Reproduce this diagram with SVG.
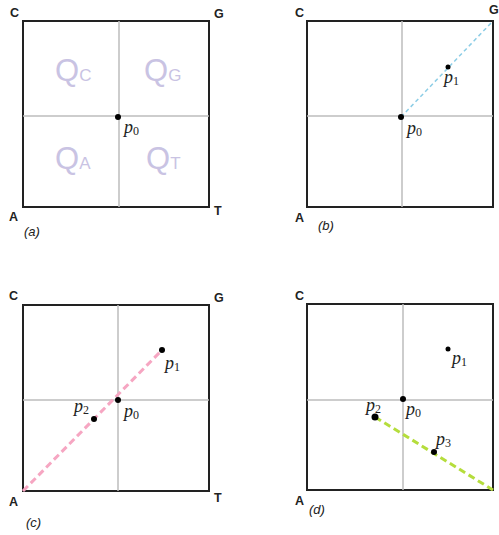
<svg xmlns="http://www.w3.org/2000/svg" width="499" height="535" viewBox="0 0 499 535">
<style>
.frame{fill:none;stroke:#222;stroke-width:2}
.grid{stroke:#bdbdbd;stroke-width:1.5}
.corner{font-family:"Liberation Sans",Arial,sans-serif;font-weight:bold;font-size:12.5px;fill:#222}
.cap{font-family:"Liberation Sans",Arial,sans-serif;font-style:italic;font-size:13px;fill:#222}
.p{font-family:"Liberation Serif","Times New Roman",serif;font-style:italic;font-size:18px;fill:#222}
.sub{font-style:normal;font-size:12px}
.q{font-family:"Liberation Sans",Arial,sans-serif;font-size:31px;fill:#c9c3e3}
.qs{font-size:17px}
.dot{fill:#000}
</style>
<rect width="499" height="535" fill="#fff"/>
<g id="frames">
<rect class="frame" x="23" y="21" width="186" height="186"/>
<line class="grid" x1="119" y1="21" x2="119" y2="207"/>
<line class="grid" x1="23" y1="116" x2="209" y2="116"/>
<rect class="frame" x="307" y="21" width="186" height="186"/>
<line class="grid" x1="402" y1="21" x2="402" y2="207"/>
<line class="grid" x1="307" y1="116" x2="493" y2="116"/>
<rect class="frame" x="23" y="305" width="186" height="186"/>
<line class="grid" x1="118" y1="305" x2="118" y2="491"/>
<line class="grid" x1="23" y1="400" x2="209" y2="400"/>
<rect class="frame" x="307" y="304" width="186" height="186"/>
<line class="grid" x1="403" y1="304" x2="403" y2="490"/>
<line class="grid" x1="307" y1="400" x2="493" y2="400"/>
</g>
<g id="connectors">
<line x1="401" y1="117" x2="493" y2="21" stroke="#8ccde6" stroke-width="1.5" stroke-dasharray="4,3"/>
<line x1="23" y1="491" x2="162" y2="350" stroke="#f6a6c2" stroke-width="3" stroke-dasharray="7,4"/>
<line x1="375" y1="417" x2="493" y2="490" stroke="#b5dd3c" stroke-width="3" stroke-dasharray="7,4"/>
</g>
<g id="panel-a">
<text class="q" x="55" y="81">Q<tspan class="qs">C</tspan></text>
<text class="q" x="144" y="81">Q<tspan class="qs">G</tspan></text>
<text class="q" x="55" y="169">Q<tspan class="qs">A</tspan></text>
<text class="q" x="146" y="169">Q<tspan class="qs">T</tspan></text>
<circle class="dot" cx="118" cy="117" r="3"/>
<text class="p" x="124" y="133">p<tspan class="sub" dy="2">0</tspan></text>
<text class="corner" x="10" y="17">C</text>
<text class="corner" x="214" y="18">G</text>
<text class="corner" x="9" y="221">A</text>
<text class="corner" x="214" y="215">T</text>
<text class="cap" x="24" y="236">(a)</text>
</g>
<g id="panel-b">
<circle class="dot" cx="401" cy="117" r="3"/>
<circle class="dot" cx="448" cy="67" r="2.5"/>
<text class="p" x="444" y="83">p<tspan class="sub" dy="2">1</tspan></text>
<text class="p" x="407" y="134">p<tspan class="sub" dy="2">0</tspan></text>
<text class="corner" x="295" y="17">C</text>
<text class="corner" x="489" y="14">G</text>
<text class="corner" x="295" y="222">A</text>
<text class="cap" x="318" y="230">(b)</text>
</g>
<g id="panel-c">
<circle class="dot" cx="162" cy="350" r="3"/>
<circle class="dot" cx="94" cy="419" r="3"/>
<circle class="dot" cx="118" cy="400" r="3"/>
<text class="p" x="165" y="369">p<tspan class="sub" dy="2">1</tspan></text>
<text class="p" x="74" y="412">p<tspan class="sub" dy="2">2</tspan></text>
<text class="p" x="124" y="417">p<tspan class="sub" dy="2">0</tspan></text>
<text class="corner" x="9" y="300">C</text>
<text class="corner" x="214" y="302">G</text>
<text class="corner" x="9" y="506">A</text>
<text class="corner" x="214" y="502">T</text>
<text class="cap" x="26" y="527">(c)</text>
</g>
<g id="panel-d">
<circle class="dot" cx="448" cy="349" r="2.5"/>
<circle class="dot" cx="403" cy="399" r="3"/>
<circle class="dot" cx="375" cy="417" r="3.5"/>
<circle class="dot" cx="434" cy="452" r="3"/>
<text class="p" x="452" y="364">p<tspan class="sub" dy="2">1</tspan></text>
<text class="p" x="366" y="411">p<tspan class="sub" dy="2">2</tspan></text>
<text class="p" x="406" y="415">p<tspan class="sub" dy="2">0</tspan></text>
<text class="p" x="436" y="445">p<tspan class="sub" dy="2">3</tspan></text>
<text class="corner" x="295" y="300">C</text>
<text class="corner" x="295" y="505">A</text>
<text class="cap" x="309" y="514">(d)</text>
</g>
</svg>
